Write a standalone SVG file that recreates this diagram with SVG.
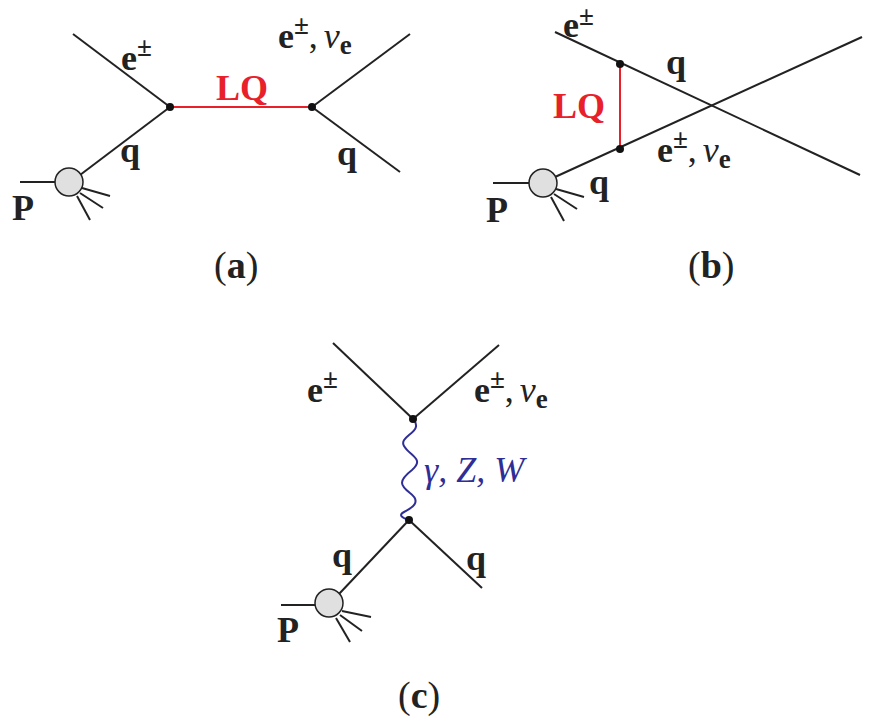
<svg xmlns="http://www.w3.org/2000/svg" width="872" height="726" viewBox="0 0 872 726">
<style>
.l{stroke:#222;stroke-width:2;fill:none}
.r{stroke:#e8202a;stroke-width:2;fill:none}
.w{stroke:#2e2e96;stroke-width:2;fill:none}
.blob{fill:#e0e0e0;stroke:#222;stroke-width:1.5}
.t{font-family:"Liberation Serif",serif;font-weight:bold;font-size:36px;fill:#222}
.s{font-size:27px}
.rt{fill:#e8202a}
.nu{font-family:"Liberation Serif",serif;font-style:italic;font-weight:normal;font-size:36px;fill:#222}
.bt{font-family:"Liberation Serif",serif;font-style:italic;font-size:36px;fill:#2e2e96}
.cap{font-family:"Liberation Serif",serif;font-size:38px;fill:#222}
</style>
<rect width="872" height="726" fill="#fff"/>
<g id="connectors">
<line class="l" x1="73" y1="34" x2="170" y2="107"/>
<line class="r" x1="170" y1="107" x2="312" y2="107"/>
<line class="l" x1="312" y1="107" x2="410" y2="34"/>
<line class="l" x1="312" y1="107" x2="400" y2="172"/>
<line class="l" x1="170" y1="107" x2="80" y2="175"/>
<line class="l" x1="20" y1="182" x2="55" y2="182"/>
<line class="l" x1="82" y1="188" x2="110" y2="196"/>
<line class="l" x1="80" y1="193" x2="103" y2="208"/>
<line class="l" x1="77" y1="196" x2="90" y2="220"/>
<line class="l" x1="555" y1="32" x2="860" y2="175"/>
<line class="r" x1="620" y1="64" x2="620" y2="149"/>
<line class="l" x1="555" y1="177" x2="862" y2="37"/>
<line class="l" x1="493" y1="183" x2="529" y2="183"/>
<line class="l" x1="556" y1="189" x2="584" y2="197"/>
<line class="l" x1="554" y1="194" x2="577" y2="209"/>
<line class="l" x1="551" y1="197" x2="564" y2="221"/>
<line class="l" x1="333" y1="343" x2="413" y2="419"/>
<line class="l" x1="413" y1="419" x2="499" y2="345"/>
<path class="w" d="M413,419 C425,432 398,436 404,446 C410,456 425,459 412,470 C398,481 400,485 410,493 C422,502 412,508 404,512 C398,515 402,518 409,520"/>
<line class="l" x1="409" y1="520" x2="482" y2="588"/>
<line class="l" x1="409" y1="520" x2="339" y2="594"/>
<line class="l" x1="281" y1="605" x2="315" y2="605"/>
<line class="l" x1="342" y1="611" x2="371" y2="617"/>
<line class="l" x1="340" y1="615" x2="362" y2="631"/>
<line class="l" x1="336" y1="618" x2="350" y2="642"/>
</g>
<g id="a">
<circle cx="170" cy="107" r="4" fill="#111"/><circle cx="312" cy="107" r="4" fill="#111"/>
<circle class="blob" cx="69" cy="182" r="14"/>
<text class="t" x="121" y="70">e<tspan class="s" dy="-14">±</tspan></text>
<text class="t rt" x="216" y="100">LQ</text>
<text class="t" x="278" y="48">e<tspan class="s" dy="-14">±</tspan><tspan dy="14" font-weight="normal">,</tspan><tspan class="nu" dx="6">ν</tspan><tspan class="s" dy="6">e</tspan></text>
<text class="t" x="120" y="162">q</text>
<text class="t" x="337" y="165">q</text>
<text class="t" x="12" y="220">P</text>
<text class="cap" x="214" y="278">(<tspan font-weight="bold">a</tspan>)</text>
</g>
<g id="b">
<circle cx="620" cy="64" r="4" fill="#111"/><circle cx="620" cy="149" r="4" fill="#111"/>
<circle class="blob" cx="543" cy="183" r="14"/>
<text class="t" x="563" y="37">e<tspan class="s" dy="-12">±</tspan></text>
<text class="t" x="666" y="74">q</text>
<text class="t rt" x="553" y="118">LQ</text>
<text class="t" x="657" y="162">e<tspan class="s" dy="-14">±</tspan><tspan dy="14" font-weight="normal">,</tspan><tspan class="nu" dx="6">ν</tspan><tspan class="s" dy="6">e</tspan></text>
<text class="t" x="589" y="194">q</text>
<text class="t" x="486" y="222">P</text>
<text class="cap" x="688" y="278">(<tspan font-weight="bold">b</tspan>)</text>
</g>
<g id="c">
<circle cx="413" cy="419" r="4" fill="#111"/><circle cx="409" cy="520" r="4" fill="#111"/>
<circle class="blob" cx="329" cy="603" r="14"/>
<text class="t" x="307" y="402">e<tspan class="s" dy="-14">±</tspan></text>
<text class="t" x="474" y="402">e<tspan class="s" dy="-14">±</tspan><tspan dy="14" font-weight="normal">,</tspan><tspan class="nu" dx="6">ν</tspan><tspan class="s" dy="6">e</tspan></text>
<text class="bt" x="424" y="482">γ, Z, W</text>
<text class="t" x="332" y="567">q</text>
<text class="t" x="466" y="570">q</text>
<text class="t" x="277" y="642">P</text>
<text class="cap" x="398" y="708">(<tspan font-weight="bold">c</tspan>)</text>
</g>
</svg>
